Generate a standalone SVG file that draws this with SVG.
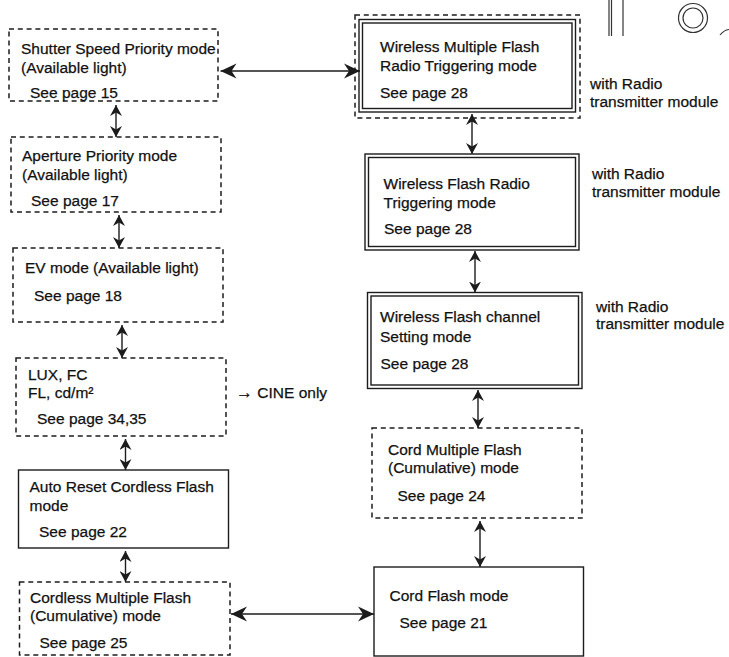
<svg xmlns="http://www.w3.org/2000/svg" width="729" height="657" viewBox="0 0 729 657">
<style>
text{font-family:"Liberation Sans","DejaVu Sans",Arial,sans-serif;font-size:15.5px;fill:#111;stroke:#111;stroke-width:0.25}
.d{fill:none;stroke:#1c1c1c;stroke-width:1.5;stroke-dasharray:5 3.8}
.s{fill:none;stroke:#1c1c1c;stroke-width:1.4}
.c{fill:none;stroke:#1c1c1c;stroke-width:1.4}
.cs{marker-start:url(#as);marker-end:url(#as)}
.cl{marker-start:url(#al);marker-end:url(#al)}
.dec{fill:none;stroke:#333;stroke-width:1.2}
</style>
<defs>
<marker id="al" viewBox="0 0 16 16" refX="16" refY="8" markerWidth="16" markerHeight="16" markerUnits="userSpaceOnUse" orient="auto-start-reverse"><path d="M16,8 L0,0.5 L5,8 L0,15.5 Z" fill="#1c1c1c"/></marker>
<marker id="as" viewBox="0 0 11 12" refX="11" refY="6" markerWidth="11" markerHeight="12" markerUnits="userSpaceOnUse" orient="auto-start-reverse"><path d="M11,6 L0,0 L3.5,6 L0,12 Z" fill="#1c1c1c"/></marker>
</defs>
<rect width="729" height="657" fill="#fff"/>

<g id="decor">
<line class="dec" x1="609" y1="0" x2="609" y2="36"/>
<line class="dec" x1="611.5" y1="0" x2="611.5" y2="36"/>
<line class="dec" x1="623" y1="0" x2="623" y2="36"/>
<circle class="dec" cx="693" cy="18" r="14.5"/>
<circle class="dec" cx="693" cy="18" r="10"/>
<path class="dec" d="M720,35 Q724,30 729,29.5" stroke-width="2"/>
</g>

<g id="b1">
<rect class="d" x="9" y="29" width="209" height="72"/>
<text x="21" y="54">Shutter Speed Priority mode</text>
<text x="21" y="73">(Available light)</text>
<text x="30" y="97.5">See page 15</text>
</g>
<g id="b2">
<rect class="d" x="11" y="137" width="210" height="75"/>
<text x="22" y="161">Aperture Priority mode</text>
<text x="22" y="179.5">(Available light)</text>
<text x="31" y="205.5">See page 17</text>
</g>
<g id="b3">
<rect class="d" x="13" y="248" width="210" height="74"/>
<text x="25" y="273">EV mode (Available light)</text>
<text x="34" y="301">See page 18</text>
</g>
<g id="b4">
<rect class="d" x="16" y="358" width="210" height="78"/>
<text x="28" y="380">LUX, FC</text>
<text x="28" y="397.5">FL, cd/m²</text>
<text x="37" y="424">See page 34,35</text>
</g>
<g id="cine">
<text x="236" y="397.5"><tspan font-size="17">→</tspan> CINE only</text>
</g>
<g id="b5">
<rect class="s" x="18.5" y="470" width="210" height="78"/>
<text x="29.5" y="491.5">Auto Reset Cordless Flash</text>
<text x="29.5" y="510.5">mode</text>
<text x="39" y="537">See page 22</text>
</g>
<g id="b6">
<rect class="d" x="19.5" y="582" width="210.5" height="73"/>
<text x="30" y="603">Cordless Multiple Flash</text>
<text x="30" y="621">(Cumulative) mode</text>
<text x="39.5" y="648">See page 25</text>
</g>

<g id="w1">
<rect class="d" x="355" y="15" width="225" height="103"/>
<rect class="s" x="359" y="19.5" width="216.5" height="92.5"/>
<rect class="s" x="362.5" y="23" width="209.5" height="85.5"/>
<text x="380" y="51.5">Wireless Multiple Flash</text>
<text x="380" y="70.5">Radio Triggering mode</text>
<text x="380" y="97.5">See page 28</text>
</g>
<g id="n1">
<text x="590" y="89">with Radio</text>
<text x="590" y="107">transmitter module</text>
</g>
<g id="w2">
<rect class="s" x="365" y="154" width="214" height="96"/>
<rect class="s" x="368.5" y="157.5" width="207" height="89"/>
<text x="383.5" y="188.5">Wireless Flash Radio</text>
<text x="383.5" y="207.5">Triggering mode</text>
<text x="384" y="234">See page 28</text>
</g>
<g id="n2">
<text x="592" y="179">with Radio</text>
<text x="592" y="196.5">transmitter module</text>
</g>
<g id="w3">
<rect class="s" x="367.5" y="292.5" width="214.5" height="96"/>
<rect class="s" x="371" y="296" width="207.5" height="89"/>
<text x="380" y="321.5">Wireless Flash channel</text>
<text x="380" y="341.5">Setting mode</text>
<text x="380.5" y="368.5">See page 28</text>
</g>
<g id="n3">
<text x="596" y="311.5">with Radio</text>
<text x="596" y="328.5">transmitter module</text>
</g>
<g id="cmf">
<rect class="d" x="372" y="428" width="210" height="90"/>
<text x="388" y="455">Cord Multiple Flash</text>
<text x="388" y="472.5">(Cumulative) mode</text>
<text x="397.5" y="500.5">See page 24</text>
</g>
<g id="cf">
<rect class="s" x="374" y="567" width="209.5" height="89"/>
<text x="389.5" y="600.5">Cord Flash mode</text>
<text x="399.5" y="628">See page 21</text>
</g>

<g id="connectors">
<line class="c cs" x1="116" y1="105" x2="116" y2="137"/>
<line class="c cs" x1="119" y1="215" x2="119" y2="248"/>
<line class="c cs" x1="122" y1="325" x2="122" y2="358"/>
<line class="c cs" x1="125.5" y1="439" x2="125.5" y2="470"/>
<line class="c cs" x1="125.5" y1="551" x2="125.5" y2="582"/>
<line class="c cs" x1="472" y1="114" x2="472" y2="154"/>
<line class="c cs" x1="475" y1="251" x2="475" y2="292.5"/>
<line class="c cs" x1="478" y1="390" x2="478" y2="428"/>
<line class="c cs" x1="480" y1="521" x2="480" y2="567"/>
<line class="c cl" x1="220.5" y1="71" x2="360" y2="71"/>
<line class="c cl" x1="231" y1="614" x2="374" y2="614"/>
</g>
</svg>
